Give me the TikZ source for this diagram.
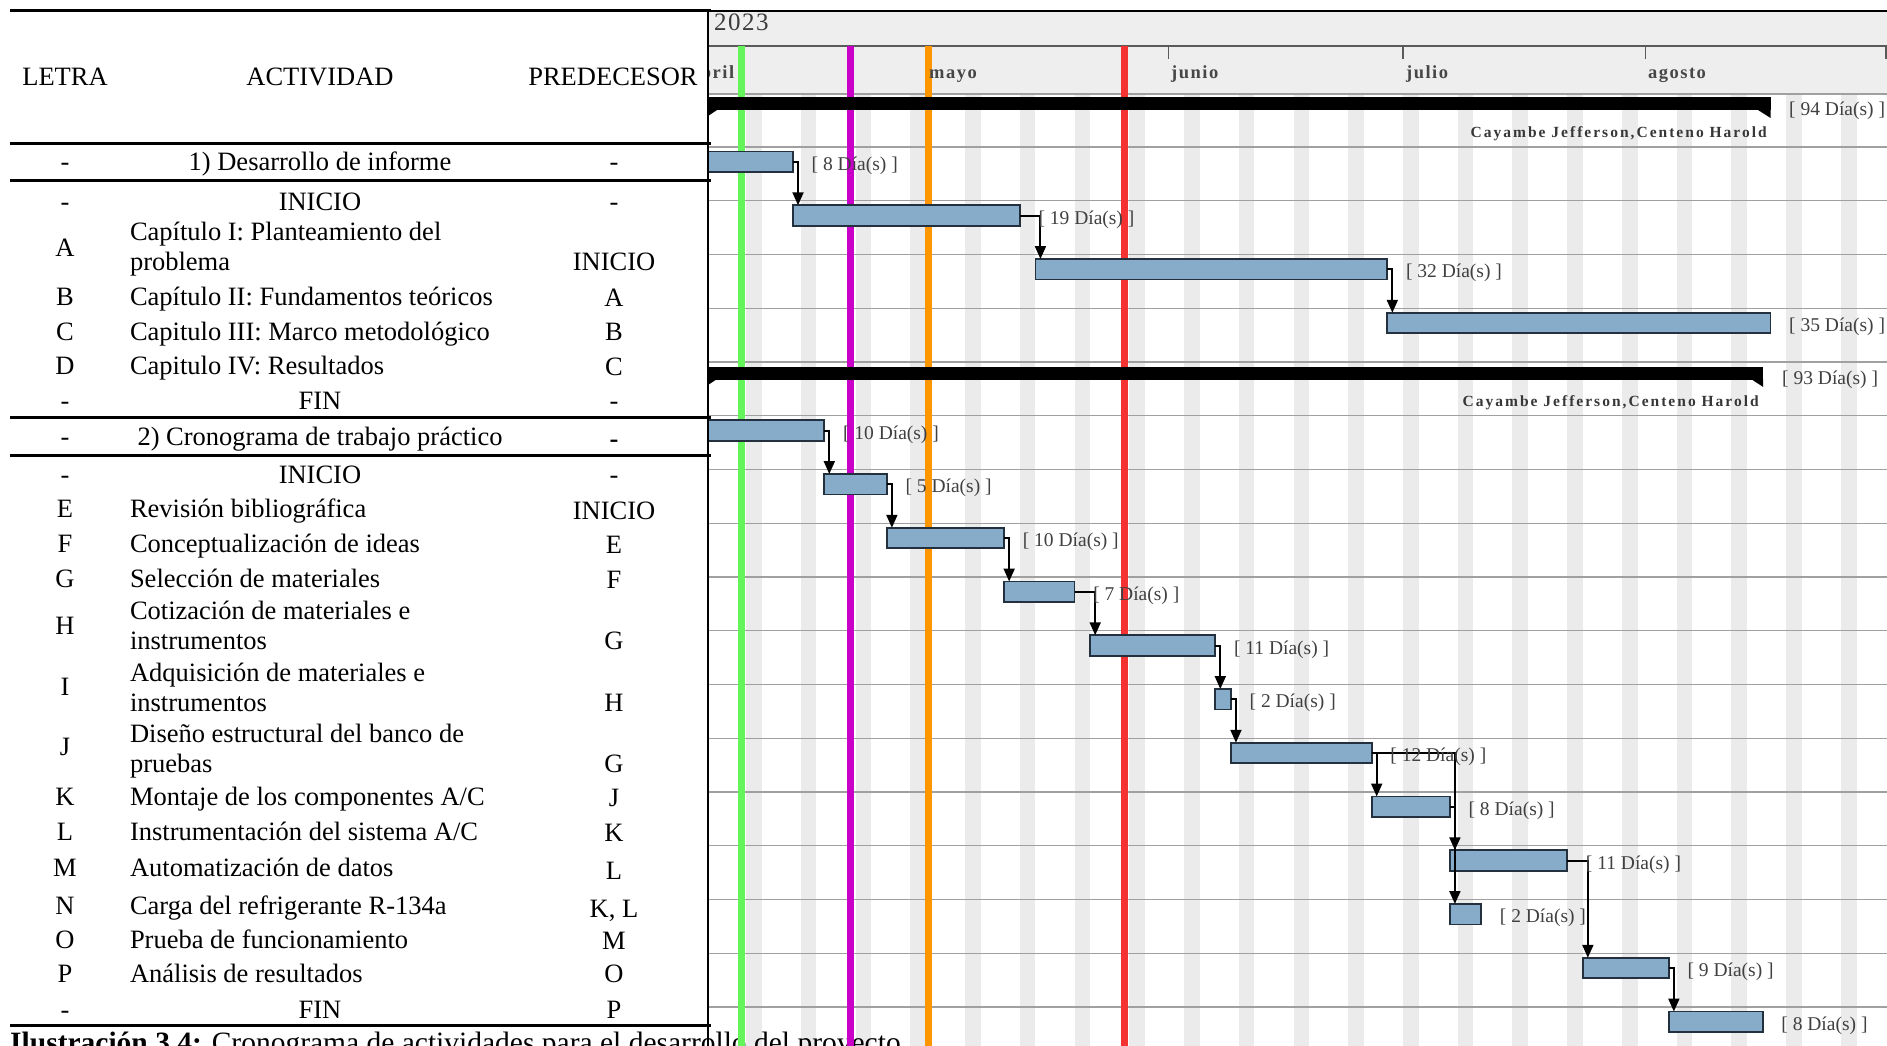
\documentclass[tikz,border=0pt]{standalone}
\usepackage{fontspec}
\setmainfont{Liberation Serif}
\newfontfamily\namefont{Liberation Serif}[LetterSpace=13]
\newfontfamily\monthfont{Liberation Serif}[LetterSpace=8]
\newfontfamily\yearfont{Liberation Serif}[LetterSpace=6]
\usetikzlibrary{calc,arrows.meta}

\definecolor{barfill}{RGB}{135,172,202}
\definecolor{barline}{RGB}{35,48,62}
\definecolor{hdr}{RGB}{238,238,238}
\definecolor{stripe}{RGB}{235,235,235}
\definecolor{rowline}{RGB}{160,160,160}
\definecolor{vgreen}{RGB}{100,245,90}
\definecolor{vmag}{RGB}{200,0,200}
\definecolor{vorange}{RGB}{255,150,0}
\definecolor{vred}{RGB}{245,50,50}
\definecolor{labgray}{RGB}{64,64,64}
\definecolor{namegray}{RGB}{55,55,55}
\definecolor{mongray}{RGB}{70,70,70}
\definecolor{yeargray}{RGB}{60,60,60}
\definecolor{tickgray}{RGB}{90,90,90}

\newcommand\ganttbar[4]{%
  \pgfmathsetmacro\bx{707+7.82*#3}%
  \pgfmathsetmacro\bw{7.82*(#4-#3)}%
  \pgfmathsetmacro\by{147+53.75*(#2-1)+4.5}%
  \node[gbarst, minimum width=\bw pt] (#1) at (\bx,\by) {};}
\newcommand\ganttlab[2]{%
  \node[lab] (#1t) at ($(#1.east)+(18.5,8.5)$) {[ #2 Día(s) ]};}

\begin{document}
\begin{tikzpicture}[x=1pt,y=-1pt,
  tx/.style={font=\fontsize{26.5}{30}\selectfont, inner sep=0pt, outer sep=0pt},
  gbarst/.style={draw=barline, line width=1.8pt, fill=barfill, inner sep=0pt, outer sep=0pt, anchor=north west, minimum height=20.5pt},
  lab/.style={font=\fontsize{19.5}{22}\selectfont, text=labgray, inner sep=0pt, anchor=base west},
  dep/.style={line width=2pt, -{Triangle[length=13pt,width=11pt]}},
  trule/.style={line width=3pt},
  vline/.style={line width=7pt},
  rowl/.style={draw=rowline, line width=1.3pt},
  nm/.style={font=\namefont\bfseries\fontsize{15.5}{17}\selectfont, text=namegray, inner sep=0pt, anchor=base east},
  mon/.style={font=\monthfont\bfseries\fontsize{18.5}{20}\selectfont, text=mongray, inner sep=0pt, anchor=base west},
]
\useasboundingbox (0,0) rectangle (1887,1046);
\fill[white] (0,0) rectangle (1887,1046);

% ---------- gantt background ----------
\begin{scope}
\clip (708,0) rectangle (1887,1046);
\fill[hdr] (708,10) rectangle (1887,94);
\foreach \k in {0,...,20}{\fill[stripe] ({707+7.82*(5+7*\k)},94) rectangle ++(15.64,960);}
\draw[rowl] (708,94) -- (1887,94);
\foreach \i in {0,...,16}{\draw[rowl] (708,{147+53.75*\i}) -- (1887,{147+53.75*\i});}
\draw[line width=1.2pt, draw=tickgray] (708,46) -- (1887,46);
\foreach \t in {926,1168.4,1403,1645.4,1886}{\draw[line width=1.5pt, draw=tickgray] (\t,46) -- (\t,59);}
\end{scope}

% ---------- caption (cut at bottom) ----------
\begin{scope}
\clip (0,0) rectangle (1887,1046);
\node[anchor=base west, inner sep=0pt, font=\fontsize{29.5}{32}\selectfont] (cap) at (10,1052)
  {\textbf{Ilustración 3.4:} Cronograma de actividades para el desarrollo del proyecto};
\end{scope}

% ---------- gantt foreground ----------
\begin{scope}
\clip (708,0) rectangle (1887,1046);
\draw[vline, vgreen] (741,46.5) -- (741,1046);
\draw[vline, vmag] (850.5,46.5) -- (850.5,1046);
\draw[vline, vorange] (928.5,46.5) -- (928.5,1046);
\draw[vline, vred] (1124.5,46.5) -- (1124.5,1046);

% month and year labels
\node[font=\yearfont\fontsize{25}{27}\selectfont, text=yeargray, inner sep=0pt, anchor=base west] (yr) at (714,31) {2023};
\node[mon] (mabr) at (690,79) {abril};
\node[mon] (mmay) at (929,79) {mayo};
\node[mon] (mjun) at (1171,79) {junio};
\node[mon] (mjul) at (1406,79) {julio};
\node[mon] (mago) at (1648,79) {agosto};

% summary bars
\fill (700,97.5) rectangle (1770.6,110.5);
\fill (1758,110) -- (1770.6,110) -- (1770.6,118) -- cycle;
\fill (708,110) -- (717,110) -- (708,116) -- cycle;
\fill (700,366.5) rectangle (1763.2,379.5);
\fill (1751,379) -- (1763.2,379) -- (1763.2,387) -- cycle;
\fill (708,379) -- (717,379) -- (708,385) -- cycle;
\node[lab] (s94) at (1789,116) {[ 94 Día(s) ]};
\node[lab] (s93) at (1782,384) {[ 93 Día(s) ]};
\node[nm] (nm1) at (1767,138) {Cayambe Jefferson,Centeno Harold};
\node[nm] (nm2) at (1759,406) {Cayambe Jefferson,Centeno Harold};

% task bars
\ganttbar{r1}{1}{-3}{11}
\ganttbar{r2}{2}{11}{40}
\ganttbar{r3}{3}{42}{87}
\ganttbar{r4}{4}{87}{136}
\ganttbar{r6}{6}{-3}{15}
\ganttbar{r7}{7}{15}{23}
\ganttbar{r8}{8}{23}{38}
\ganttbar{r9}{9}{38}{47}
\ganttbar{r10}{10}{49}{65}
\ganttbar{r11}{11}{65}{67}
\ganttbar{r12}{12}{67}{85}
\ganttbar{r13}{13}{85}{95}
\ganttbar{r14}{14}{95}{110}
\ganttbar{r15}{15}{95}{99}
\ganttbar{r16}{16}{112}{123}
\ganttbar{r17}{17}{123}{135}

% dependencies
\draw[dep] (r1.east) -| ($(r2.north west)+(5,0)$);
\draw[dep] (r2.east) -| ($(r3.north west)+(5,0)$);
\draw[dep] (r3.east) -| ($(r4.north west)+(5,0)$);
\draw[dep] (r6.east) -| ($(r7.north west)+(5,0)$);
\draw[dep] (r7.east) -| ($(r8.north west)+(5,0)$);
\draw[dep] (r8.east) -| ($(r9.north west)+(5,0)$);
\draw[dep] (r9.east) -| ($(r10.north west)+(5,0)$);
\draw[dep] (r10.east) -| ($(r11.north west)+(5,0)$);
\draw[dep] (r11.east) -| ($(r12.north west)+(5,0)$);
\draw[dep] (r12.east) -| ($(r13.north west)+(5,0)$);
\draw[dep] (r12.east) -| ($(r14.north west)+(5,0)$);
\draw[dep] (r13.east) -| ($(r15.north west)+(5,0)$);
\draw[dep] (r14.east) -| ($(r16.north west)+(5,0)$);
\draw[dep] (r16.east) -| ($(r17.north west)+(5,0)$);

% duration labels
\ganttlab{r1}{8}
\ganttlab{r2}{19}
\ganttlab{r3}{32}
\ganttlab{r4}{35}
\ganttlab{r6}{10}
\ganttlab{r7}{5}
\ganttlab{r8}{10}
\ganttlab{r9}{7}
\ganttlab{r10}{11}
\ganttlab{r11}{2}
\ganttlab{r12}{12}
\ganttlab{r13}{8}
\ganttlab{r14}{11}
\ganttlab{r15}{2}
\ganttlab{r16}{9}
\ganttlab{r17}{8}
\end{scope}

% ---------- table ----------
\draw[line width=2.5pt] (708,11) -- (1887,11);
\foreach \yy in {11,143.3,180.3,417,455,1025.3}{\draw[trule] (10,\yy) -- (711,\yy);}
\draw[line width=2pt] (708,10) -- (708,1046);

\node[tx,anchor=base] (hL) at (65,85.5) {LETRA};
\node[tx,anchor=base] (hA) at (320,85.5) {ACTIVIDAD};
\node[tx,anchor=base] (hP) at (613,85.5) {PREDECESOR};

\node[tx,anchor=base] (s1l) at (65,171) {-};
\node[tx,anchor=base] (s1a) at (320,171) {1) Desarrollo de informe};
\node[tx,anchor=base] (s1p) at (614,171) {-};

\node[tx,anchor=base] (i1l) at (65,210.7) {-};
\node[tx,anchor=base] (i1a) at (320,210.7) {INICIO};
\node[tx,anchor=base] (i1p) at (614,210.7) {-};

\node[tx,anchor=base] (Al) at (65,256.4) {A};
\node[tx,anchor=base west] (Aa1) at (130,240.8) {Capítulo I: Planteamiento del};
\node[tx,anchor=base west] (Aa2) at (130,270.8) {problema};
\node[tx,anchor=base] (Ap) at (614,270.8) {INICIO};

\node[tx,anchor=base] (Bl) at (65,305.7) {B};
\node[tx,anchor=base west] (Ba) at (130,305.7) {Capítulo II: Fundamentos teóricos};
\node[tx,anchor=base] (Bp) at (614,306.5) {A};

\node[tx,anchor=base] (Cl) at (65,340.6) {C};
\node[tx,anchor=base west] (Ca) at (130,340.6) {Capitulo III: Marco metodológico};
\node[tx,anchor=base] (Cp) at (614,340.6) {B};

\node[tx,anchor=base] (Dl) at (65,374.3) {D};
\node[tx,anchor=base west] (Da) at (130,374.3) {Capitulo IV: Resultados};
\node[tx,anchor=base] (Dp) at (614,375) {C};

\node[tx,anchor=base] (f1l) at (65,409.2) {-};
\node[tx,anchor=base] (f1a) at (320,409.2) {FIN};
\node[tx,anchor=base] (f1p) at (614,409.2) {-};

\node[tx,anchor=base] (s2l) at (65,445.3) {-};
\node[tx,anchor=base] (s2a) at (320,445.3) {2) Cronograma de trabajo práctico};
\node[tx,anchor=base] (s2p) at (614,447) {\textbf{-}};

\node[tx,anchor=base] (i2l) at (65,483.8) {-};
\node[tx,anchor=base] (i2a) at (320,483.8) {INICIO};
\node[tx,anchor=base] (i2p) at (614,483.8) {-};

\node[tx,anchor=base] (El) at (65,517.5) {E};
\node[tx,anchor=base west] (Ea) at (130,517.5) {Revisión bibliográfica};
\node[tx,anchor=base] (Ep) at (614,519.9) {INICIO};

\node[tx,anchor=base] (Fl) at (65,552.4) {F};
\node[tx,anchor=base west] (Fa) at (130,552.4) {Conceptualización de ideas};
\node[tx,anchor=base] (Fp) at (614,553.5) {E};

\node[tx,anchor=base] (Gl) at (65,587.3) {G};
\node[tx,anchor=base west] (Ga) at (130,587.3) {Selección de materiales};
\node[tx,anchor=base] (Gp) at (614,588.5) {F};

\node[tx,anchor=base] (Hl) at (65,634.3) {H};
\node[tx,anchor=base west] (Ha1) at (130,619.8) {Cotización de materiales e};
\node[tx,anchor=base west] (Ha2) at (130,649.9) {instrumentos};
\node[tx,anchor=base] (Hp) at (614,649.9) {G};

\node[tx,anchor=base] (Il) at (65,695.6) {I};
\node[tx,anchor=base west] (Ia1) at (130,681.2) {Adquisición de materiales e};
\node[tx,anchor=base west] (Ia2) at (130,711.3) {instrumentos};
\node[tx,anchor=base] (Ip) at (614,711.3) {H};

\node[tx,anchor=base] (Jl) at (65,755.8) {J};
\node[tx,anchor=base west] (Ja1) at (130,742.5) {Diseño estructural del banco de};
\node[tx,anchor=base west] (Ja2) at (130,772.7) {pruebas};
\node[tx,anchor=base] (Jp) at (614,772.7) {G};

\node[tx,anchor=base] (Kl) at (65,805.2) {K};
\node[tx,anchor=base west] (Ka) at (130,805.2) {Montaje de los componentes A/C};
\node[tx,anchor=base] (Kp) at (614,806.4) {J};

\node[tx,anchor=base] (Ll) at (65,840.1) {L};
\node[tx,anchor=base west] (La) at (130,840.1) {Instrumentación del sistema A/C};
\node[tx,anchor=base] (Lp) at (614,841.2) {K};

\node[tx,anchor=base] (Ml) at (65,876.2) {M};
\node[tx,anchor=base west] (Ma) at (130,876.2) {Automatización de datos};
\node[tx,anchor=base] (Mp) at (614,879.8) {L};

\node[tx,anchor=base] (Nl) at (65,914.7) {N};
\node[tx,anchor=base west] (Na) at (130,914.7) {Carga del refrigerante R-134a};
\node[tx,anchor=base] (Np) at (614,917.1) {K, L};

\node[tx,anchor=base] (Ol) at (65,948.4) {O};
\node[tx,anchor=base west] (Oa) at (130,948.4) {Prueba de funcionamiento};
\node[tx,anchor=base] (Op) at (614,949.5) {M};

\node[tx,anchor=base] (Pl) at (65,982.1) {P};
\node[tx,anchor=base west] (Pa) at (130,982.1) {Análisis de resultados};
\node[tx,anchor=base] (Pp) at (614,982.1) {O};

\node[tx,anchor=base] (f2l) at (65,1018.2) {-};
\node[tx,anchor=base] (f2a) at (320,1018.2) {FIN};
\node[tx,anchor=base] (f2p) at (614,1018.2) {P};
\end{tikzpicture}
\end{document}
